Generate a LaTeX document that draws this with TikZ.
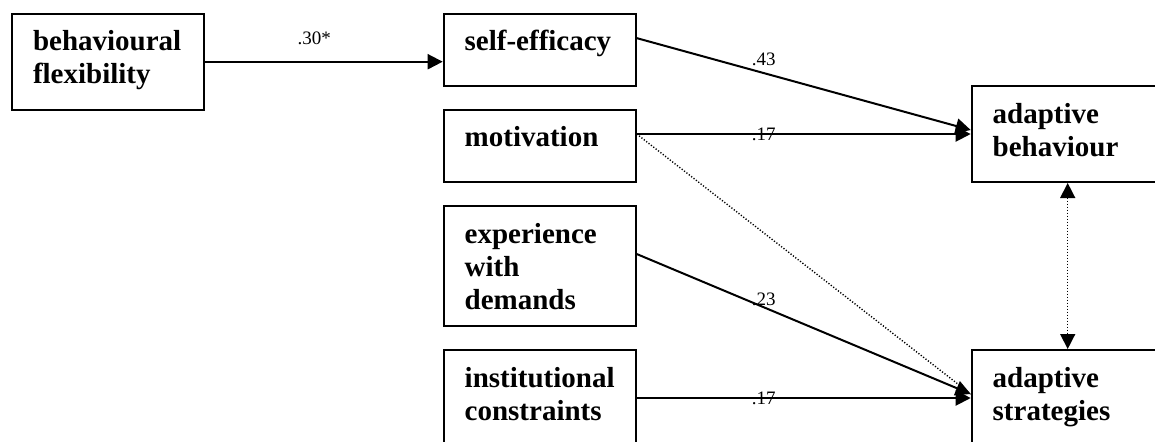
\documentclass[tikz,border=0pt]{standalone}
\usepackage{fontspec}
\setmainfont{Liberation Serif}
\usetikzlibrary{arrows.meta,positioning,calc}
\tikzset{
  >={Triangle[length=7.5pt,width=7.5pt]},
  varbox/.style={draw, line width=1pt, anchor=north west, align=left,
    text width=75pt, inner xsep=10.5pt, inner ysep=0pt, minimum width=96pt,
    text height=10pt,
    font={\bfseries\fontsize{14.5}{16.5}\selectfont\hyphenpenalty=10000\exhyphenpenalty=10000}},
  pathline/.style={->, line width=1pt},
  dotline/.style={line width=0.7pt, dash pattern=on 0.6pt off 0.9pt},
  coef/.style={font=\fontsize{9.5}{11}\selectfont, inner sep=0pt}
}
\begin{document}
\begin{tikzpicture}[x=0.5pt,y=-0.5pt]
\useasboundingbox (0,0) rectangle (1155,441);
\clip (0,0) rectangle (1155,441);

\node[varbox, minimum height=48pt, text depth=21pt] (flex) at (11,12.7) {behavioural\\flexibility};

\node[varbox, minimum height=36pt, text depth=9pt] (eff) at (442.7,12.7) {self-efficacy};
\node[varbox, minimum height=36pt, text depth=9pt] (mot) at (442.7,108.7) {motivation};
\node[varbox, minimum height=60pt, text depth=33pt] (exp) at (442.7,205) {experience\\with\\demands};
\node[varbox, minimum height=48pt, text depth=21pt] (inst) at (442.7,349) {institutional\\constraints};

\node[varbox, minimum height=48pt, text depth=21pt] (behav) at (970.7,85) {adaptive\\behaviour};
\node[varbox, minimum height=48pt, text depth=21pt] (strat) at (970.7,349) {adaptive\\strategies};

\draw[pathline] (flex.east) -- node[coef, above=8pt, pos=0.46] (c1) {.30*} (flex.east -| eff.west);
\draw[pathline] ([yshift=5.8pt]eff.east) -- node[coef, above=3pt, pos=0.38] (c2) {.43} ([yshift=2pt]behav.west);
\draw[pathline] (mot.east |- behav.west) -- node[coef, pos=0.38] (c3) {.17} (behav.west);
\draw[dotline] (mot.east |- behav.west) -- ([yshift=2pt]strat.west);
\draw[pathline] ([yshift=6pt]exp.east) -- node[coef, above, pos=0.38] (c4) {.23} ([yshift=2pt]strat.west);
\draw[pathline] (inst.east) -- node[coef, pos=0.38] (c5) {.17} (strat.west);
\draw[dotline, <->] (behav.south) -- (strat.north);
\end{tikzpicture}
\end{document}
